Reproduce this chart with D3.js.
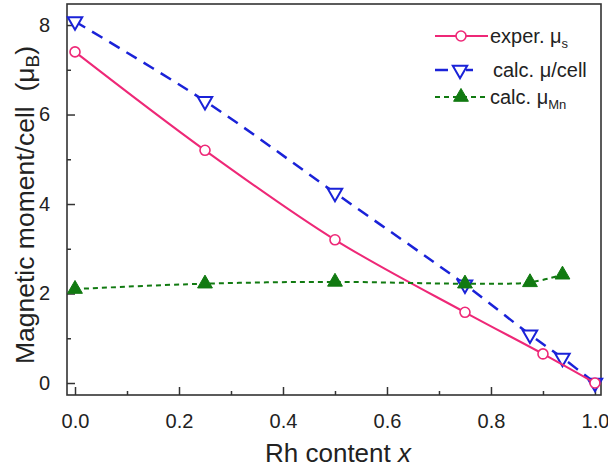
<!DOCTYPE html>
<html>
<head>
<meta charset="utf-8">
<script src="https://cdn.jsdelivr.net/npm/d3@7"></script>
<style>
  html, body { margin: 0; padding: 0; background: #fff; }
  svg { display: block; font-family: "Liberation Sans", Arial, sans-serif; }
</style>
</head>
<body>
<svg id="chart" width="608" height="468"></svg>
<script>
// ---- data ----
const xExper = [0, 0.25, 0.5, 0.75, 0.9, 1.0];
const muExper = [7.4, 5.2, 3.2, 1.58, 0.65, 0.0];

const xCell = [0, 0.25, 0.5, 0.75, 0.875, 0.9375, 1.0];
const muCell = [8.08, 6.3, 4.25, 2.2, 1.08, 0.56, 0.0];

const xMn = [0, 0.25, 0.5, 0.75, 0.875, 0.9375];
const muMn = [2.1, 2.22, 2.26, 2.22, 2.25, 2.42];

const xMajorTicks = [0, 0.2, 0.4, 0.6, 0.8, 1.0];
const xMinorTicks = [0.1, 0.3, 0.5, 0.7, 0.9];
const yMajorTicks = [0, 2, 4, 6, 8];
const yMinorTicks = [1, 3, 5, 7];

const legendLabels = ["exper. μ", "calc. μ/cell", "calc. μ"];
const legendSubs = ["s", "", "Mn"];

// ---- layout ----
const L = 67, R = 601, T = 4, B = 395;
const svg = d3.select("#chart");

const x = d3.scaleLinear().domain([-0.0154, 1.0116]).range([L, R]);
const y = d3.scaleLinear().domain([-0.268, 8.47]).range([B, T]);

const cPink = "#ee2877", cBlue = "#1a22d8", cGreen = "#117a11";

// axes
const xAxis = d3.axisBottom(x).tickValues(xMajorTicks).tickSizeInner(-8).tickSizeOuter(0)
  .tickPadding(19).tickFormat(d3.format(".1f"));
const gx = svg.append("g").attr("transform", `translate(0,${B})`).call(xAxis);
gx.select(".domain").remove();
gx.selectAll("text").attr("font-size", 20).attr("fill", "#222").attr("font-family", "Liberation Sans, Arial, sans-serif");
gx.selectAll("line").attr("stroke", "#333").attr("stroke-width", 1.5);

const gxm = svg.append("g").attr("transform", `translate(0,${B})`)
  .call(d3.axisBottom(x).tickValues(xMinorTicks).tickSizeInner(-4).tickSizeOuter(0).tickFormat(""));
gxm.select(".domain").remove();
gxm.selectAll("line").attr("stroke", "#333").attr("stroke-width", 1.5);

const yAxis = d3.axisLeft(y).tickValues(yMajorTicks).tickSizeInner(-8).tickSizeOuter(0)
  .tickPadding(17).tickFormat(d3.format("d"));
const gy = svg.append("g").attr("transform", `translate(${L},0)`).call(yAxis);
gy.select(".domain").remove();
gy.selectAll("text").attr("font-size", 20).attr("fill", "#222").attr("font-family", "Liberation Sans, Arial, sans-serif");
gy.selectAll("line").attr("stroke", "#333").attr("stroke-width", 1.5);

const gym = svg.append("g").attr("transform", `translate(${L},0)`)
  .call(d3.axisLeft(y).tickValues(yMinorTicks).tickSizeInner(-4).tickSizeOuter(0).tickFormat(""));
gym.select(".domain").remove();
gym.selectAll("line").attr("stroke", "#333").attr("stroke-width", 1.5);

// frame
svg.append("rect").attr("x", L).attr("y", T).attr("width", R - L).attr("height", B - T)
  .attr("fill", "none").attr("stroke", "#333").attr("stroke-width", 1.6);

// axis titles
svg.append("text").attr("x", 338).attr("y", 462).attr("text-anchor", "middle")
  .attr("font-size", 26).attr("fill", "#222")
  .html('Rh content <tspan font-style="italic">x</tspan>');

const yt = svg.append("text").attr("transform", "translate(34,205) rotate(-90)")
  .attr("text-anchor", "middle").attr("font-size", 26.5).attr("fill", "#222")
  .style("white-space", "pre");
yt.append("tspan").text("Magnetic moment/cell  (μ");
yt.append("tspan").attr("font-size", 19).attr("dy", 5).text("B");
yt.append("tspan").attr("dy", -5).text(")");

// lines
const pts = (xs, ys) => xs.map((d, i) => [d, ys[i]]);
const line = d3.line().x(d => x(d[0])).y(d => y(d[1])).curve(d3.curveCatmullRom.alpha(0.5));

svg.append("path").attr("d", line(pts(xCell, muCell))).attr("fill", "none")
  .attr("stroke", cBlue).attr("stroke-width", 2.5).attr("stroke-dasharray", "12,8");

const sym = (type, size) => d3.symbol().type(type).size(size)();
const triDown = "rotate(180)";

// blue markers (open down-triangles)
svg.append("g").selectAll("path").data(pts(xCell, muCell)).join("path")
  .attr("d", sym(d3.symbolTriangle, 90))
  .attr("transform", d => `translate(${x(d[0])},${y(d[1])}) ${triDown}`)
  .attr("fill", "#fff").attr("stroke", cBlue).attr("stroke-width", 2);

svg.append("path").attr("d", line(pts(xExper, muExper))).attr("fill", "none")
  .attr("stroke", cPink).attr("stroke-width", 2);

svg.append("g").selectAll("circle").data(pts(xExper, muExper)).join("circle")
  .attr("cx", d => x(d[0])).attr("cy", d => y(d[1])).attr("r", 5)
  .attr("fill", "#fff").attr("stroke", cPink).attr("stroke-width", 1.6);

svg.append("path").attr("d", line(pts(xMn, muMn))).attr("fill", "none")
  .attr("stroke", cGreen).attr("stroke-width", 2).attr("stroke-dasharray", "5,4");

svg.append("g").selectAll("path").data(pts(xMn, muMn)).join("path")
  .attr("d", sym(d3.symbolTriangle, 95))
  .attr("transform", d => `translate(${x(d[0])},${y(d[1])})`)
  .attr("fill", cGreen).attr("stroke", cGreen).attr("stroke-width", 1);

// legend
const legY = [36, 70, 97];
const lg = svg.append("g");
// row 1
lg.append("line").attr("x1", 435).attr("x2", 488).attr("y1", legY[0]).attr("y2", legY[0])
  .attr("stroke", cPink).attr("stroke-width", 2);
lg.append("circle").attr("cx", 461).attr("cy", legY[0]).attr("r", 5)
  .attr("fill", "#fff").attr("stroke", cPink).attr("stroke-width", 1.6);
// row 2
lg.append("line").attr("x1", 435).attr("x2", 448).attr("y1", legY[1]).attr("y2", legY[1])
  .attr("stroke", cBlue).attr("stroke-width", 2.5);
lg.append("line").attr("x1", 466).attr("x2", 473).attr("y1", legY[1]).attr("y2", legY[1])
  .attr("stroke", cBlue).attr("stroke-width", 2.5);
lg.append("path").attr("d", sym(d3.symbolTriangle, 90))
  .attr("transform", `translate(460,${legY[1]}) rotate(180)`)
  .attr("fill", "#fff").attr("stroke", cBlue).attr("stroke-width", 2);
// row 3
lg.append("line").attr("x1", 435).attr("x2", 488).attr("y1", legY[2]).attr("y2", legY[2])
  .attr("stroke", cGreen).attr("stroke-width", 2).attr("stroke-dasharray", "5,4");
lg.append("path").attr("d", sym(d3.symbolTriangle, 95))
  .attr("transform", `translate(461,${legY[2]})`)
  .attr("fill", cGreen).attr("stroke", cGreen).attr("stroke-width", 1);

legendLabels.forEach((lab, i) => {
  const t = lg.append("text").attr("x", i === 1 ? 493 : 490).attr("y", legY[i] + 7)
    .attr("font-size", 20).attr("fill", "#222");
  t.append("tspan").text(lab);
  if (legendSubs[i]) t.append("tspan").attr("font-size", 13).attr("dy", 5).text(legendSubs[i]);
});
</script>
</body>
</html>
